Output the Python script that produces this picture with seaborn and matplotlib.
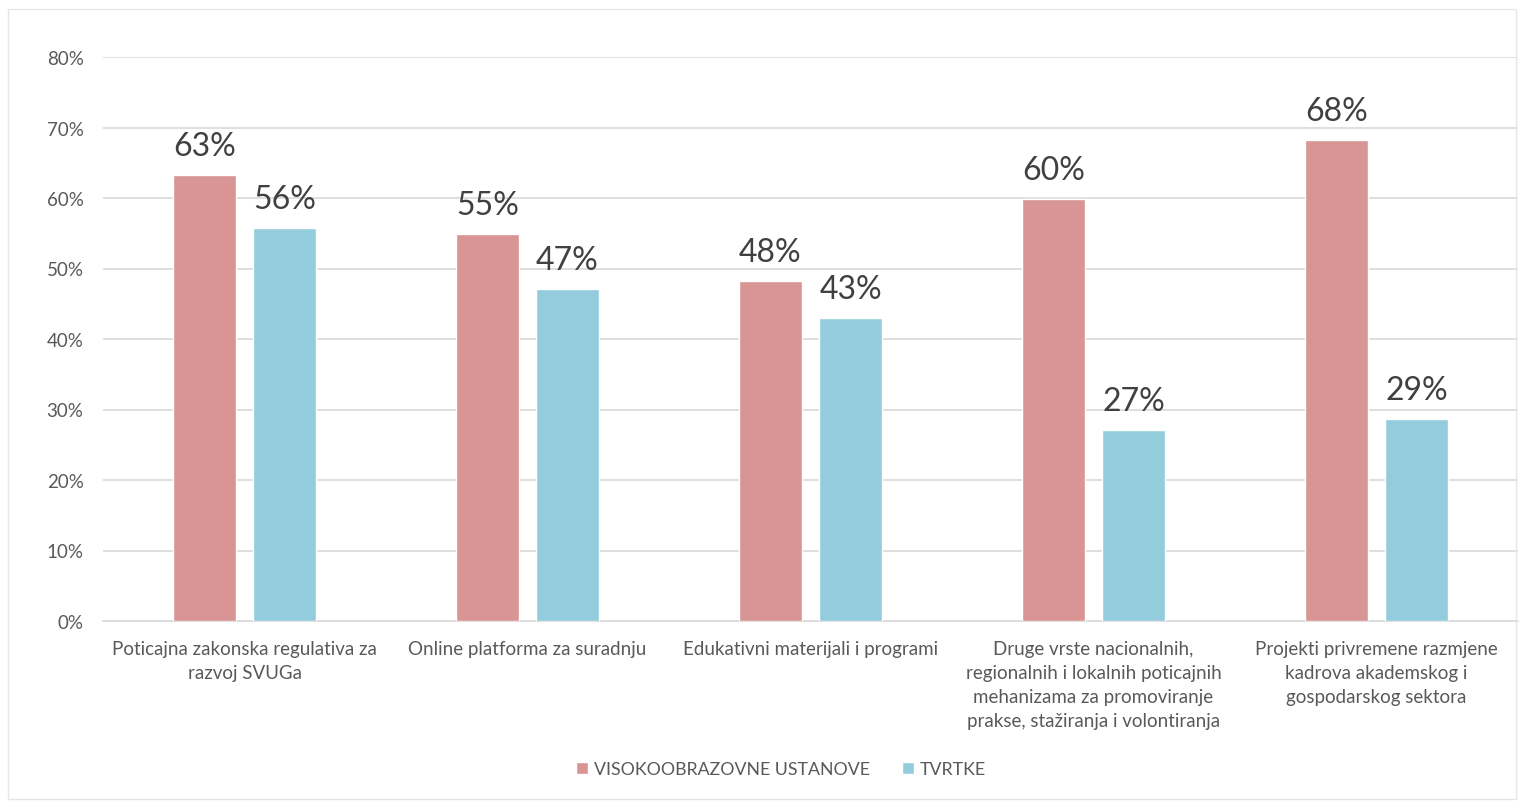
import matplotlib
matplotlib.use("Agg")
import matplotlib.pyplot as plt
import pandas as pd
import seaborn as sns
from matplotlib.patches import Rectangle

# Data
categories = [
    "Poticajna zakonska regulativa za\nrazvoj SVUGa",
    "Online platforma za suradnju",
    "Edukativni materijali i programi",
    "Druge vrste nacionalnih,\nregionalnih i lokalnih poticajnih\nmehanizama za promoviranje\nprakse, stažiranja i volontiranja",
    "Projekti privremene razmjene\nkadrova akademskog i\ngospodarskog sektora",
]
series_names = ["VISOKOOBRAZOVNE USTANOVE", "TVRTKE"]
visoko_values = [0.633, 0.549, 0.482, 0.599, 0.682]
tvrtke_values = [0.557, 0.471, 0.430, 0.271, 0.287]
y_ticks = [0.0, 0.1, 0.2, 0.3, 0.4, 0.5, 0.6, 0.7, 0.8]

colors = ["#D99594", "#93CDDD"]
text_color = "#595959"
label_color = "#404040"
grid_color = "#D9D9D9"

df = pd.DataFrame({
    "category": categories * 2,
    "series": [series_names[0]] * len(categories) + [series_names[1]] * len(categories),
    "value": visoko_values + tvrtke_values,
})

sns.set_theme(style="white")
plt.rcParams["font.family"] = ["Lato", "DejaVu Sans"]

fig = plt.figure(figsize=(15.19, 8.03), dpi=100)
fig.patch.set_facecolor("white")
# light chart-area border like the Excel export
fig.patches.append(Rectangle((8 / 1519, 1 - 800 / 803), 1508 / 1519, 790 / 803,
                             transform=fig.transFigure, fill=False,
                             edgecolor="#E6E6E6", linewidth=1.0))

ax = fig.add_axes([103 / 1519, 181 / 803, 1415 / 1519, 564 / 803])

sns.barplot(
    data=df, x="category", y="value", hue="series",
    palette=colors, width=0.566, gap=0.21,
    order=categories, hue_order=series_names,
    saturation=1, ax=ax, zorder=3,
)

for container in ax.containers:
    ax.bar_label(container, labels=[f"{v * 100:.0f}%" for v in container.datavalues],
                 padding=10, fontsize=23, color=label_color)

ax.set_ylim(0, 0.8)
ax.set_xlim(-0.5, len(categories) - 0.5)
ax.set_yticks(y_ticks)
ax.set_yticklabels([f"{t * 100:.0f}%" for t in y_ticks], fontsize=13.5, color=text_color)
ax.tick_params(axis="y", length=0, pad=14)
ax.tick_params(axis="x", length=0, pad=14)
for lbl in ax.get_xticklabels():
    lbl.set_fontsize(13.5)
    lbl.set_color(text_color)
    lbl.set_linespacing(1.5)
ax.set_xlabel("")
ax.set_ylabel("")

ax.yaxis.grid(True, color=grid_color, linewidth=1.2, zorder=0)
ax.set_axisbelow(True)
for side in ["top", "right", "left"]:
    ax.spines[side].set_visible(False)
ax.spines["bottom"].set_color(grid_color)
ax.spines["bottom"].set_linewidth(1.2)

handles, labels = ax.get_legend_handles_labels()
ax.legend(handles, labels, loc="center", bbox_to_anchor=(0.514, 1 - 770 / 803),
          bbox_transform=fig.transFigure, ncol=2, frameon=False,
          fontsize=12.8, labelcolor=text_color, handlelength=0.7, handleheight=0.7,
          handletextpad=0.3, columnspacing=1.8)

fig.savefig("out.png", dpi=100)
